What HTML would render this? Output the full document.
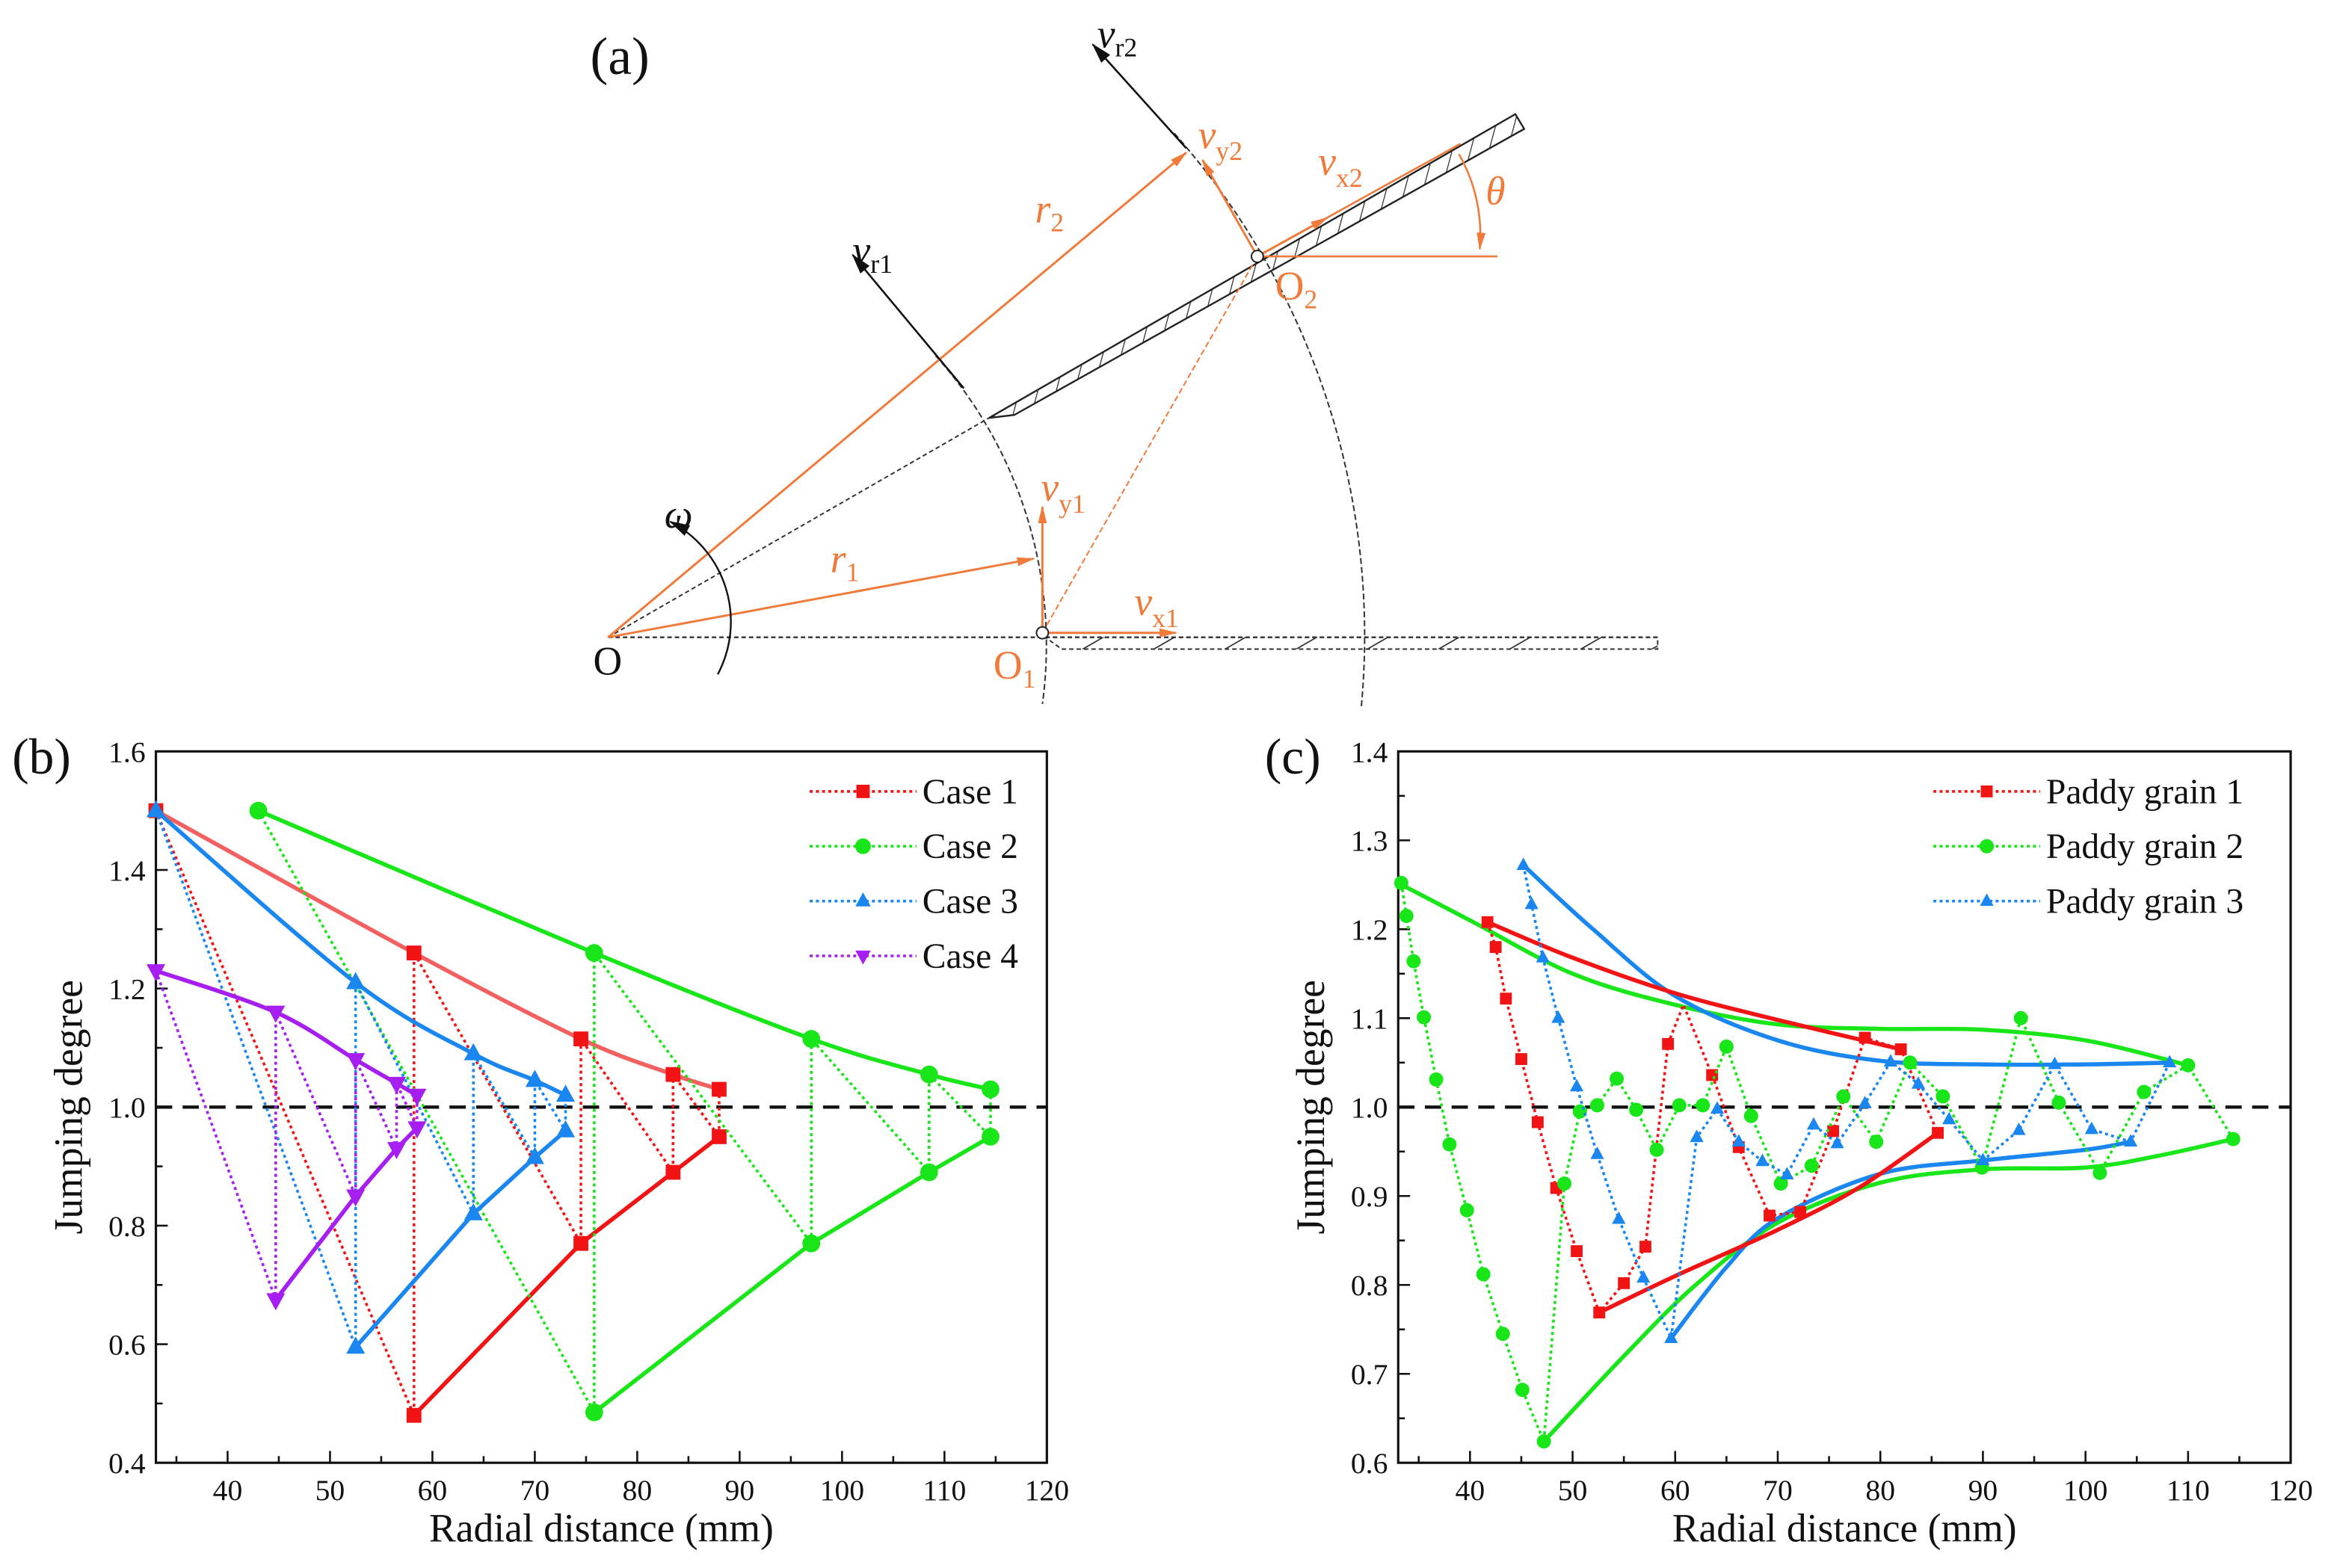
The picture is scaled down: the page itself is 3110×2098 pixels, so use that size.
<!DOCTYPE html>
<html><head><meta charset="utf-8">
<style>
html,body{margin:0;padding:0;background:#fff;}
svg{display:block;}
text{font-family:"Liberation Serif",serif;}
</style></head>
<body>
<svg id="fig" xmlns="http://www.w3.org/2000/svg" width="3110" height="2098" viewBox="0 0 1568 1058">
<defs>
<pattern id="hatch" patternUnits="userSpaceOnUse" width="12" height="12" patternTransform="rotate(15)">
<line x1="0" y1="0" x2="0" y2="12" stroke="#222" stroke-width="1.2"/>
</pattern>
<pattern id="hatch2" patternUnits="userSpaceOnUse" width="24" height="24" patternTransform="rotate(60)">
<line x1="0" y1="0" x2="0" y2="24" stroke="#222" stroke-width="1.6"/>
</pattern>
<marker id="arrO" markerWidth="12" markerHeight="8" refX="11" refY="4" orient="auto" markerUnits="userSpaceOnUse"><path d="M0,1 L12,4 L0,7 Z" fill="#ef7a3a"/></marker>
<marker id="arrK2" markerWidth="14" markerHeight="10" refX="13" refY="5" orient="auto" markerUnits="userSpaceOnUse"><path d="M0,1 L14,5 L0,9 Z" fill="#111"/></marker>
</defs>

<g id="panel-a" fill="none">
  <text x="398" y="50" font-size="36" fill="#111" stroke="none">(a)</text>
  <line x1="410" y1="430" x2="1118" y2="430" stroke="#333" stroke-width="1.2" stroke-dasharray="3,2"/>
  <polygon points="705,430 1118,430 1118,438 716,438" fill="url(#hatch2)" stroke="#333" stroke-width="1" stroke-dasharray="3,2"/>
  <polygon points="667,282 1022,77 1028,87 684,280" fill="url(#hatch)" stroke="#222" stroke-width="1.2"/>
  <line x1="410" y1="430" x2="667" y2="282" stroke="#333" stroke-width="1" stroke-dasharray="3,2"/>
  <path d="M 631 240 A 293 293 0 0 1 703 475" stroke="#333" stroke-width="1" stroke-dasharray="4,2"/>
  <path d="M 792 90 A 512 512 0 0 1 918 478" stroke="#333" stroke-width="1" stroke-dasharray="4,2"/>
  <line x1="410" y1="430" x2="697" y2="377" stroke="#ef7a3a" stroke-width="1.5" marker-end="url(#arrO)"/>
  <line x1="410" y1="430" x2="800" y2="103" stroke="#ef7a3a" stroke-width="1.5" marker-end="url(#arrO)"/>
  <line x1="703" y1="427" x2="848" y2="173" stroke="#ef7a3a" stroke-width="1" stroke-dasharray="4,2"/>
  <line x1="703" y1="427" x2="703" y2="342" stroke="#ef7a3a" stroke-width="1.5" marker-end="url(#arrO)"/>
  <line x1="703" y1="427" x2="793" y2="427" stroke="#ef7a3a" stroke-width="1.5" marker-end="url(#arrO)"/>
  <line x1="848" y1="173" x2="1010" y2="173" stroke="#ef7a3a" stroke-width="1.3"/>
  <line x1="848" y1="173" x2="985" y2="97" stroke="#ef7a3a" stroke-width="1.3"/>
  <line x1="848" y1="173" x2="895" y2="147" stroke="#ef7a3a" stroke-width="1.5" marker-end="url(#arrO)"/>
  <line x1="848" y1="173" x2="811" y2="108" stroke="#ef7a3a" stroke-width="1.5" marker-end="url(#arrO)"/>
  <path d="M 984 104 A 110 110 0 0 1 998 168" stroke="#ef7a3a" stroke-width="1.3" marker-end="url(#arrO)"/>
  <line x1="650" y1="262" x2="575" y2="172" stroke="#111" stroke-width="1.3" marker-end="url(#arrK2)"/>
  <line x1="800" y1="100" x2="737" y2="30" stroke="#111" stroke-width="1.3" marker-end="url(#arrK2)"/>
  <path d="M 484 455 A 76 76 0 0 0 452 352" stroke="#111" stroke-width="1.2" marker-end="url(#arrK2)"/>
  <circle cx="703" cy="427" r="4" fill="#fff" stroke="#222" stroke-width="1"/>
  <circle cx="848" cy="173" r="4" fill="#fff" stroke="#222" stroke-width="1"/>
  <g font-size="27" stroke="none">
    <text x="400" y="455" fill="#111">O</text>
    <text x="670" y="458" fill="#ef7a3a">O<tspan font-size="18" dy="6">1</tspan></text>
    <text x="860" y="202" fill="#ef7a3a">O<tspan font-size="18" dy="6">2</tspan></text>
    <text x="560" y="386" fill="#ef7a3a" font-style="italic">r<tspan font-size="18" font-style="normal" dy="6">1</tspan></text>
    <text x="698" y="150" fill="#ef7a3a" font-style="italic">r<tspan font-size="18" font-style="normal" dy="6">2</tspan></text>
    <text x="702" y="338" fill="#ef7a3a" font-style="italic">v<tspan font-size="18" font-style="normal" dy="8">y1</tspan></text>
    <text x="765" y="415" fill="#ef7a3a" font-style="italic">v<tspan font-size="18" font-style="normal" dy="8">x1</tspan></text>
    <text x="808" y="100" fill="#ef7a3a" font-style="italic">v<tspan font-size="18" font-style="normal" dy="8">y2</tspan></text>
    <text x="889" y="118" fill="#ef7a3a" font-style="italic">v<tspan font-size="18" font-style="normal" dy="8">x2</tspan></text>
    <text x="1002" y="138" fill="#ef7a3a" font-style="italic">θ</text>
    <text x="575" y="178" fill="#111" font-style="italic">v<tspan font-size="18" font-style="normal" dy="6">r1</tspan></text>
    <text x="740" y="32" fill="#111" font-style="italic">v<tspan font-size="18" font-style="normal" dy="6">r2</tspan></text>
    <text x="448" y="356" fill="#111" font-style="italic">ω</text>
  </g>
</g>
<g id="panel-b"></g>
<g id="panel-c"></g>
</svg>
<script>
// ---------- Data: panel (b) ----------
const bTicksX = [40,50,60,70,80,90,100,110,120];
const bTicksY = [0.4,0.6,0.8,1.0,1.2,1.4,1.6];
const case1X = [33,58.2,58.2,74.5,74.5,83.5,83.5,88,88];
const case1Y = [1.5,0.48,1.26,0.77,1.115,0.89,1.055,0.95,1.03];
const case2X = [43,75.8,75.8,97,97,108.5,108.5,114.5,114.5];
const case2Y = [1.5,0.485,1.26,0.77,1.115,0.89,1.055,0.95,1.03];
const case3X = [33,52.5,52.5,64,64,70,70,73,73];
const case3Y = [1.5,0.595,1.21,0.82,1.09,0.915,1.045,0.96,1.02];
const case4X = [33,44.7,44.7,52.5,52.5,56.5,56.5,58.5,58.5];
const case4Y = [1.23,0.675,1.16,0.85,1.08,0.93,1.04,0.965,1.02];
const bLegend = ["Case 1","Case 2","Case 3","Case 4"];

// ---------- Data: panel (c) ----------
const cTicksX = [40,50,60,70,80,90,100,110,120];
const cTicksY = [0.6,0.7,0.8,0.9,1.0,1.1,1.2,1.3,1.4];
const grain1X = [41.7,42.5,43.5,45,46.6,48.4,50.4,52.6,55,57.1,59.3,60.8,63.6,66.2,69.2,72.2,75.4,78.5,82,85.6];
const grain1Y = [1.208,1.18,1.122,1.054,0.983,0.909,0.838,0.769,0.802,0.843,1.071,1.115,1.036,0.955,0.878,0.882,0.973,1.078,1.065,0.971];
const grain1Mk = [1,1,1,1,1,1,1,1,1,1,1,0,1,1,1,1,1,1,1,1];
const grain2X = [33.3,33.8,34.5,35.5,36.7,38,39.7,41.3,43.2,45.1,47.2,49.2,50.7,52.4,54.3,56.2,58.2,60.4,62.7,65,67.4,70.3,73.3,76.4,79.6,82.9,86.1,89.9,93.7,97.4,101.4,105.7,110,114.4];
const grain2Y = [1.252,1.215,1.164,1.101,1.031,0.958,0.884,0.812,0.745,0.682,0.624,0.914,0.995,1.002,1.032,0.997,0.952,1.002,1.002,1.068,0.99,0.914,0.934,1.012,0.961,1.05,1.012,0.932,1.1,1.005,0.926,1.017,1.047,0.964];
const grain3X = [45.2,46,47.1,48.6,50.4,52.4,54.5,56.9,59.6,62.1,64.1,66.2,68.5,70.9,73.5,75.8,78.5,81,83.7,86.7,90,93.5,97,100.6,104.4,108.2];
const grain3Y = [1.272,1.228,1.168,1.1,1.023,0.947,0.874,0.808,0.74,0.966,0.998,0.961,0.939,0.924,0.98,0.959,1.004,1.051,1.026,0.986,0.94,0.974,1.048,0.975,0.961,1.05];
const env1UpX = [41.7,50,60,70,82];
const env1UpY = [1.208,1.168,1.128,1.098,1.065];
const env1LoX = [52.6,60,70,78,85.6];
const env1LoY = [0.769,0.81,0.862,0.91,0.971];
const env2UpX = [33,40,50,60,70,80,90,100,110];
const env2UpY = [1.252,1.21,1.15,1.115,1.093,1.088,1.087,1.075,1.047];
const env2LoX = [47.2,55,62,70,80,90,100,107,114.4];
const env2LoY = [0.624,0.72,0.8,0.87,0.915,0.93,0.932,0.945,0.964];
const env3UpX = [45.2,52,60,70,80,90,100,108.2];
const env3UpY = [1.272,1.2,1.125,1.075,1.052,1.048,1.048,1.05];
const env3LoX = [59.6,65,70,80,90,100,104.4];
const env3LoY = [0.74,0.82,0.875,0.925,0.94,0.952,0.961];
const cLegend = ["Paddy grain 1","Paddy grain 2","Paddy grain 3"];

const NS = "http://www.w3.org/2000/svg";
function mk(parent, tag, attrs){const e=document.createElementNS(NS,tag);for(const k in attrs)e.setAttribute(k,attrs[k]);parent.appendChild(e);return e;}

function makeAxes(L,R,T,B,x0,x1,y0,y1){
  return {sx:v=>L+(v-x0)/(x1-x0)*(R-L), sy:v=>B-(v-y0)/(y1-y0)*(B-T)};
}
function smoothPath(pts){
  let d="M"+pts[0][0]+","+pts[0][1];
  for(let i=0;i<pts.length-1;i++){
    const p0=pts[Math.max(0,i-1)],p1=pts[i],p2=pts[i+1],p3=pts[Math.min(pts.length-1,i+2)];
    const c1=[p1[0]+(p2[0]-p0[0])/6,p1[1]+(p2[1]-p0[1])/6];
    const c2=[p2[0]-(p3[0]-p1[0])/6,p2[1]-(p3[1]-p1[1])/6];
    d+=" C"+c1[0]+","+c1[1]+" "+c2[0]+","+c2[1]+" "+p2[0]+","+p2[1];
  }
  return d;
}
function marker(g,type,x,y,color,s){
  let e;
  if(type==="square") e=mk(g,"rect",{x:x-s,y:y-s,width:2*s,height:2*s,fill:color});
  else if(type==="circle") e=mk(g,"circle",{cx:x,cy:y,r:s+0.8,fill:color});
  else if(type==="up") e=mk(g,"polygon",{points:`${x},${y-s*1.3} ${x-s*1.15},${y+s*0.8} ${x+s*1.15},${y+s*0.8}`,fill:color});
  else e=mk(g,"polygon",{points:`${x},${y+s*1.3} ${x-s*1.15},${y-s*0.8} ${x+s*1.15},${y-s*0.8}`,fill:color});
  return e;
}
function frame(g,L,R,T,B,ax,ticksX,ticksY,minorX,minorY,xmin,xmax,ymin,ymax,name){
  const r=mk(g,"rect",{x:L,y:T,width:R-L,height:B-T,fill:"none",stroke:"#111","stroke-width":1.6});
  
  
  for(let v=xmin;v<=xmax+1e-9;v+=minorX){
    const major=ticksX.some(t=>Math.abs(t-v)<1e-6);
    const x=ax.sx(v);
    if(x<=L+0.5||x>=R-0.5) continue;
    mk(g,"line",{x1:x,y1:B,x2:x,y2:B-(major?8:4.5),stroke:"#111","stroke-width":1.3});
  }
  ticksX.forEach(t=>{
    const tx=mk(g,"text",{x:ax.sx(t),y:B+25,"font-size":20,"text-anchor":"middle",fill:"#111"});
    tx.textContent=t;
    
    
  });
  for(let v=ymin;v<=ymax+1e-9;v+=minorY){
    const major=ticksY.some(t=>Math.abs(t-v)<1e-6);
    const y=ax.sy(v);
    if(y<=T+0.5||y>=B-0.5) continue;
    mk(g,"line",{x1:L,y1:y,x2:L+(major?8:4.5),y2:y,stroke:"#111","stroke-width":1.3});
  }
  ticksY.forEach(t=>{
    const ty=mk(g,"text",{x:L-7,y:ax.sy(t)+7,"font-size":20,"text-anchor":"end",fill:"#111"});
    ty.textContent=t.toFixed(1);
    
    
  });
  const xt=mk(g,"text",{x:(L+R)/2,y:B+53,"font-size":27,"text-anchor":"middle",fill:"#111"});
  xt.textContent="Radial distance (mm)";
  
  
  const yt=mk(g,"text",{x:0,y:0,"font-size":27,"text-anchor":"middle",fill:"#111",transform:`translate(${L-50},${(T+B)/2}) rotate(-90)`});
  yt.textContent="Jumping degree";
  
  
  const ref=mk(g,"line",{x1:L,y1:ax.sy(1.0),x2:R,y2:ax.sy(1.0),stroke:"#111","stroke-width":2.2,"stroke-dasharray":"11,7"});
  
  
}
function series(g,ax,xs,ys,color,type,s,mkFlags,sname){
  const pts=xs.map((x,i)=>[ax.sx(x),ax.sy(ys[i])]);
  const pl=mk(g,"polyline",{points:pts.map(p=>p.join(",")).join(" "),fill:"none",stroke:color,"stroke-width":1.8,"stroke-dasharray":"2,2.2"});
  
  
  pts.forEach((p,i)=>{
    if(mkFlags && !mkFlags[i]) return;
    const m=marker(g,type,p[0],p[1],color,s);
    
    
  });
}
function envelope(g,ax,xs,ys,color,w,sname,straight){
  const pts=xs.map((x,i)=>[ax.sx(x),ax.sy(ys[i])]);
  let p;
  if(straight) p=mk(g,"polyline",{points:pts.map(q=>q.join(",")).join(" "),fill:"none",stroke:color,"stroke-width":w,"stroke-linejoin":"round"});
  else p=mk(g,"path",{d:smoothPath(pts),fill:"none",stroke:color,"stroke-width":w,"stroke-linecap":"round"});
  
  
}
function legend(g,x,y,dy,labels,colors,types,s,name){
  labels.forEach((lab,i)=>{
    const yy=y+i*dy;
    const ln=mk(g,"line",{x1:x,y1:yy,x2:x+72,y2:yy,stroke:colors[i],"stroke-width":1.8,"stroke-dasharray":"2,2.2"});
    
    
    const m=marker(g,types[i],x+36,yy,colors[i],s);
    
    
    const t=mk(g,"text",{x:x+76,y:yy+8,"font-size":24,fill:"#111"});
    t.textContent=lab;
    
    
  });
}

const RED="#f21414", GREEN="#19e619", BLUE="#1a87f0", PURP="#a61ef0";

(function(){
  const g=document.getElementById("panel-b");
  const L=105,R=706,T=507,B=987;
  const ax=makeAxes(L,R,T,B,33,120,0.4,1.6);
  const lb=mk(g,"text",{x:8,y:522,"font-size":34,fill:"#111"});
  lb.textContent="(b)";
  
  
  frame(g,L,R,T,B,ax,bTicksX,bTicksY,5,0.1,35,120,0.4,1.6,"chart-b");
  const sets=[[case1X,case1Y,RED,"square",5,"case-1","#f36060"],[case2X,case2Y,GREEN,"circle",5.2,"case-2",GREEN],[case3X,case3Y,BLUE,"up",5.5,"case-3",BLUE],[case4X,case4Y,PURP,"down",5.5,"case-4",PURP]];
  sets.forEach(([xs,ys,c,t,s,n,uc])=>{
    const upX=xs.filter((_,i)=>i%2===0), upY=ys.filter((_,i)=>i%2===0);
    const loX=xs.filter((_,i)=>i%2===1), loY=ys.filter((_,i)=>i%2===1);
    envelope(g,ax,upX,upY,uc,2.8,n+"-upper-envelope",false);
    envelope(g,ax,loX,loY,c,2.8,n+"-lower-envelope",true);
    series(g,ax,xs,ys,c,t,s,null,n);
  });
  legend(g,546,534,37,bLegend,[RED,GREEN,BLUE,PURP],["square","circle","up","down"],4.5,"chart-b");
})();

(function(){
  const g=document.getElementById("panel-c");
  const L=943,R=1545,T=507,B=987;
  const ax=makeAxes(L,R,T,B,33,120,0.6,1.4);
  const lb=mk(g,"text",{x:853,y:522,"font-size":34,fill:"#111"});
  lb.textContent="(c)";
  
  
  frame(g,L,R,T,B,ax,cTicksX,cTicksY,5,0.05,35,120,0.6,1.4,"chart-c");
  envelope(g,ax,env2UpX,env2UpY,GREEN,2.8,"grain-2-upper-envelope");
  envelope(g,ax,env2LoX,env2LoY,GREEN,2.8,"grain-2-lower-envelope");
  envelope(g,ax,env3UpX,env3UpY,BLUE,2.8,"grain-3-upper-envelope");
  envelope(g,ax,env3LoX,env3LoY,BLUE,2.8,"grain-3-lower-envelope");
  envelope(g,ax,env1UpX,env1UpY,RED,2.8,"grain-1-upper-envelope");
  envelope(g,ax,env1LoX,env1LoY,RED,2.8,"grain-1-lower-envelope");
  series(g,ax,grain1X,grain1Y,RED,"square",4,grain1Mk,"grain-1");
  series(g,ax,grain2X,grain2Y,GREEN,"circle",4,null,"grain-2");
  series(g,ax,grain3X,grain3Y,BLUE,"up",4,null,"grain-3");
  legend(g,1304,534,37,cLegend,[RED,GREEN,BLUE],["square","circle","up"],4,"chart-c");
})();
</script>
</body></html>
